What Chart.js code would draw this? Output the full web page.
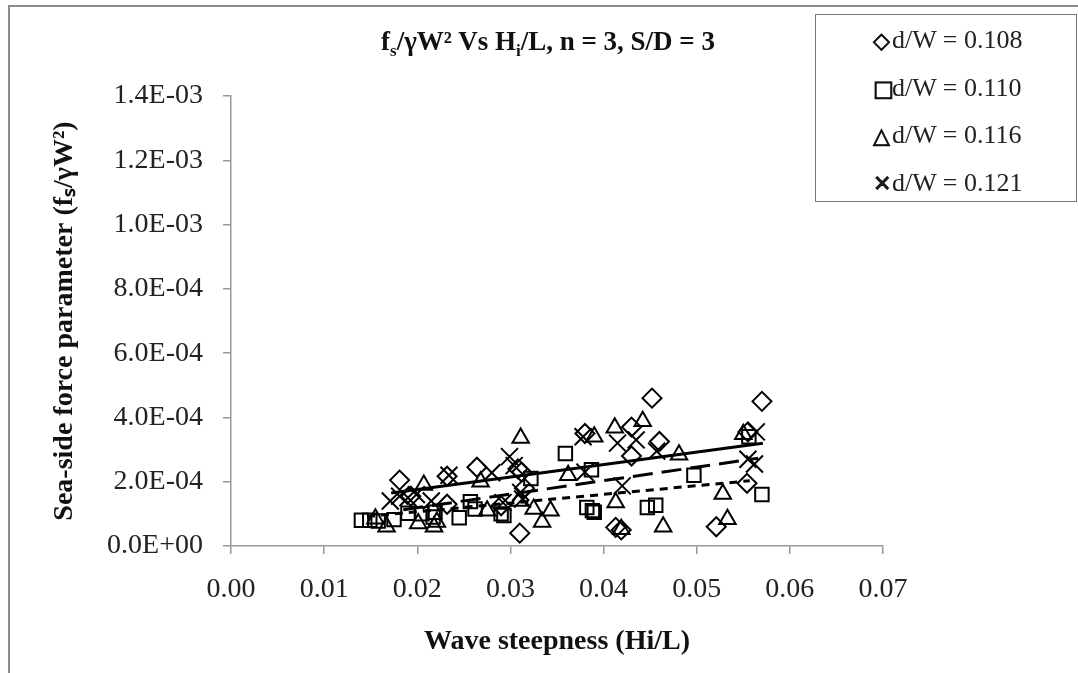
<!DOCTYPE html>
<html>
<head>
<meta charset="utf-8">
<script src="https://cdn.jsdelivr.net/npm/chart.js@4.4.1/dist/chart.umd.min.js"></script>
<style>
  body { margin: 0; background: #fff; }
  #wrap { position: relative; width: 1078px; height: 673px; overflow: hidden; }
  #frame { position: absolute; left: 8px; top: 5px; width: 1100px; height: 700px;
           border-left: 2px solid #8c8c8c; border-top: 2px solid #8c8c8c; }
  #title { position: absolute; left: 0; width: 1096px; top: 26px; text-align: center;
           font: bold 27px "Liberation Serif", "Times New Roman", serif; color: #111; }
  #title sub { font-size: 17px; }
  #legend { position: absolute; left: 815px; top: 14px; width: 262px; height: 188px;
            border: 1.5px solid #777; box-sizing: border-box; background: #fff;
            font: 26px "Liberation Serif", "Times New Roman", serif; color: #222; }
  .item { position: absolute; left: 57px; height: 30px; line-height: 30px; white-space: nowrap; }
  .mk { display: inline-block; width: 19px; font: bold 22px "DejaVu Sans", sans-serif;
        -webkit-text-stroke: 0.8px #000; }
</style>
</head>
<body>
<div id="wrap">
  <canvas id="myChart"></canvas>
  <div id="frame"></div>
  <div id="title">f<sub>s</sub>/γW² Vs H<sub>i</sub>/L, n = 3, S/D = 3</div>
  <div id="legend"></div>
</div>
<script>
// d/W = 0.108 (diamonds)
const d108X = [0.0181, 0.0193, 0.0232, 0.0232, 0.0264, 0.0290, 0.0308, 0.0312, 0.0315, 0.0310, 0.0380, 0.0430, 0.0430, 0.0452, 0.0460, 0.0413, 0.0419, 0.0521, 0.0554, 0.0555, 0.0570];
const d108Y = [2.05e-4, 1.55e-4, 2.17e-4, 1.30e-4, 2.45e-4, 1.25e-4, 2.40e-4, 2.30e-4, 1.80e-4, 0.40e-4, 3.50e-4, 2.80e-4, 3.70e-4, 4.60e-4, 3.25e-4, 0.58e-4, 0.50e-4, 0.60e-4, 1.95e-4, 3.55e-4, 4.50e-4];
// d/W = 0.110 (squares)
const d110X = [0.0140, 0.0149, 0.0158, 0.0175, 0.0190, 0.0205, 0.0217, 0.0219, 0.0245, 0.0257, 0.0262, 0.0290, 0.0293, 0.0322, 0.0359, 0.0382, 0.0388, 0.0390, 0.0387, 0.0447, 0.0456, 0.0497, 0.0556, 0.0570];
const d110Y = [0.80e-4, 0.80e-4, 0.78e-4, 0.82e-4, 1.02e-4, 1.00e-4, 0.90e-4, 1.05e-4, 0.88e-4, 1.38e-4, 1.15e-4, 1.00e-4, 0.95e-4, 2.10e-4, 2.88e-4, 1.20e-4, 1.10e-4, 1.05e-4, 2.37e-4, 1.20e-4, 1.27e-4, 2.20e-4, 3.40e-4, 1.60e-4];
// d/W = 0.116 (triangles)
const d116X = [0.0155, 0.0167, 0.0201, 0.0207, 0.0218, 0.0221, 0.0268, 0.0275, 0.0309, 0.0311, 0.0325, 0.0334, 0.0343, 0.0362, 0.0390, 0.0412, 0.0413, 0.0419, 0.0442, 0.0464, 0.0481, 0.0528, 0.0533, 0.0550];
const d116Y = [0.85e-4, 0.60e-4, 0.70e-4, 1.90e-4, 0.60e-4, 0.75e-4, 2.00e-4, 1.10e-4, 1.40e-4, 3.36e-4, 1.15e-4, 0.75e-4, 1.10e-4, 2.20e-4, 3.40e-4, 3.68e-4, 1.35e-4, 0.52e-4, 3.88e-4, 0.60e-4, 2.84e-4, 1.62e-4, 0.83e-4, 3.48e-4];
// d/W = 0.121 (crosses)
const d121X = [0.0171, 0.0181, 0.0190, 0.0199, 0.0215, 0.0234, 0.0280, 0.0292, 0.0299, 0.0304, 0.0311, 0.0313, 0.0378, 0.0380, 0.0415, 0.0420, 0.0435, 0.0457, 0.0555, 0.0562, 0.0564];
const d121Y = [1.40e-4, 1.55e-4, 1.50e-4, 1.60e-4, 1.40e-4, 2.20e-4, 2.28e-4, 1.35e-4, 2.78e-4, 2.50e-4, 1.67e-4, 1.46e-4, 3.40e-4, 2.30e-4, 3.20e-4, 1.87e-4, 3.30e-4, 2.95e-4, 2.70e-4, 2.55e-4, 3.55e-4];

// trend line end points
const trendSolidX = [0.0172, 0.0571];
const trendSolidY = [1.65e-4, 3.20e-4];
const trendLongX = [0.0185, 0.0566];
const trendLongY = [1.13e-4, 2.73e-4];
const trendShortX = [0.0146, 0.0557];
const trendShortY = [0.92e-4, 2.03e-4];

const seriesNames = ['d/W = 0.108', 'd/W = 0.110', 'd/W = 0.116', 'd/W = 0.121'];
const xTicks = [0, 0.01, 0.02, 0.03, 0.04, 0.05, 0.06, 0.07];

const pts = (xs, ys) => xs.map((x, i) => ({x: x, y: ys[i]}));

function markerSet(label, xs, ys, style, r) {
    return {
        label: label,
        data: pts(xs, ys),
        showLine: false,
        pointStyle: style,
        pointRadius: r,
        pointBorderWidth: 2,
        pointBorderColor: '#000',
        pointBackgroundColor: 'rgba(0,0,0,0)'
    };
}
function trendSet(xs, ys, dash) {
    return {
        label: 'trend',
        data: pts(xs, ys),
        showLine: true,
        borderColor: '#000',
        borderWidth: 3,
        borderDash: dash,
        pointRadius: 0
    };
}

const tickFont = {family: '"Liberation Serif", "Times New Roman", serif', size: 28};
const titleFont = {family: '"Liberation Serif", "Times New Roman", serif', size: 28, weight: 'bold'};

function sci(v) {
    if (v === 0) return '0.0E+00';
    let parts = v.toExponential(1).toUpperCase().split('E');
    let e = parseInt(parts[1]);
    return parts[0] + 'E' + (e < 0 ? '-' : '+') + String(Math.abs(e)).padStart(2, '0');
}

const ctx = document.getElementById('myChart').getContext('2d');
const chart = new Chart(ctx, {
    type: 'scatter',
    data: {
        datasets: [
            trendSet(trendSolidX, trendSolidY, []),
            trendSet(trendLongX, trendLongY, [20, 9]),
            trendSet(trendShortX, trendShortY, [8, 6]),
            markerSet(seriesNames[0], d108X, d108Y, 'rectRot', 9.5),
            markerSet(seriesNames[1], d110X, d110Y, 'rect', 9.5),
            markerSet(seriesNames[2], d116X, d116Y, 'triangle', 9.5),
            markerSet(seriesNames[3], d121X, d121Y, 'crossRot', 12)
        ]
    },
    options: {
        responsive: true,
        maintainAspectRatio: false,
        animation: false,
        layout: {padding: {left: 0, right: 195, top: 96, bottom: 0}},
        plugins: {legend: {display: false}, tooltip: {enabled: false}},
        scales: {
            x: {
                type: 'linear',
                min: 0, max: 0.07,
                afterBuildTicks: s => { s.ticks = xTicks.map(v => ({value: v})); },
                afterFit: s => { s.height = 127; },
                ticks: {font: tickFont, color: '#222', padding: 19, callback: v => v.toFixed(2)},
                grid: {drawOnChartArea: false, drawTicks: true, tickLength: 8, color: '#999', lineWidth: 1.5},
                border: {color: '#999', width: 1.5},
                title: {display: true, text: 'Wave steepness (Hi/L)', font: titleFont, color: '#111', padding: {top: 0, bottom: 14}}
            },
            y: {
                type: 'linear',
                min: 0, max: 1.4e-3,
                ticks: {stepSize: 2e-4, font: tickFont, color: '#222', padding: 20, callback: v => sci(v)},
                afterFit: s => { s.width = 231; },
                grid: {drawOnChartArea: false, drawTicks: true, tickLength: 8, color: '#999', lineWidth: 1.5},
                border: {color: '#999', width: 1.5},
                title: {display: true, text: 'Sea-side force parameter (fₛ/γW²)', font: titleFont, color: '#111', padding: {top: 48, bottom: 0}}
            }
        }
    }
});

// legend box
const marks = ['◇', '□', '△', '✕'];
const legendEl = document.getElementById('legend');
const rows = [10, 58, 105, 153];
seriesNames.forEach((name, i) => {
    let d = document.createElement('div');
    d.className = 'item';
    d.style.top = rows[i] + 'px';
    d.innerHTML = '<span class="mk">' + marks[i] + '</span>' + name;
    legendEl.appendChild(d);
});
</script>
</body>
</html>
